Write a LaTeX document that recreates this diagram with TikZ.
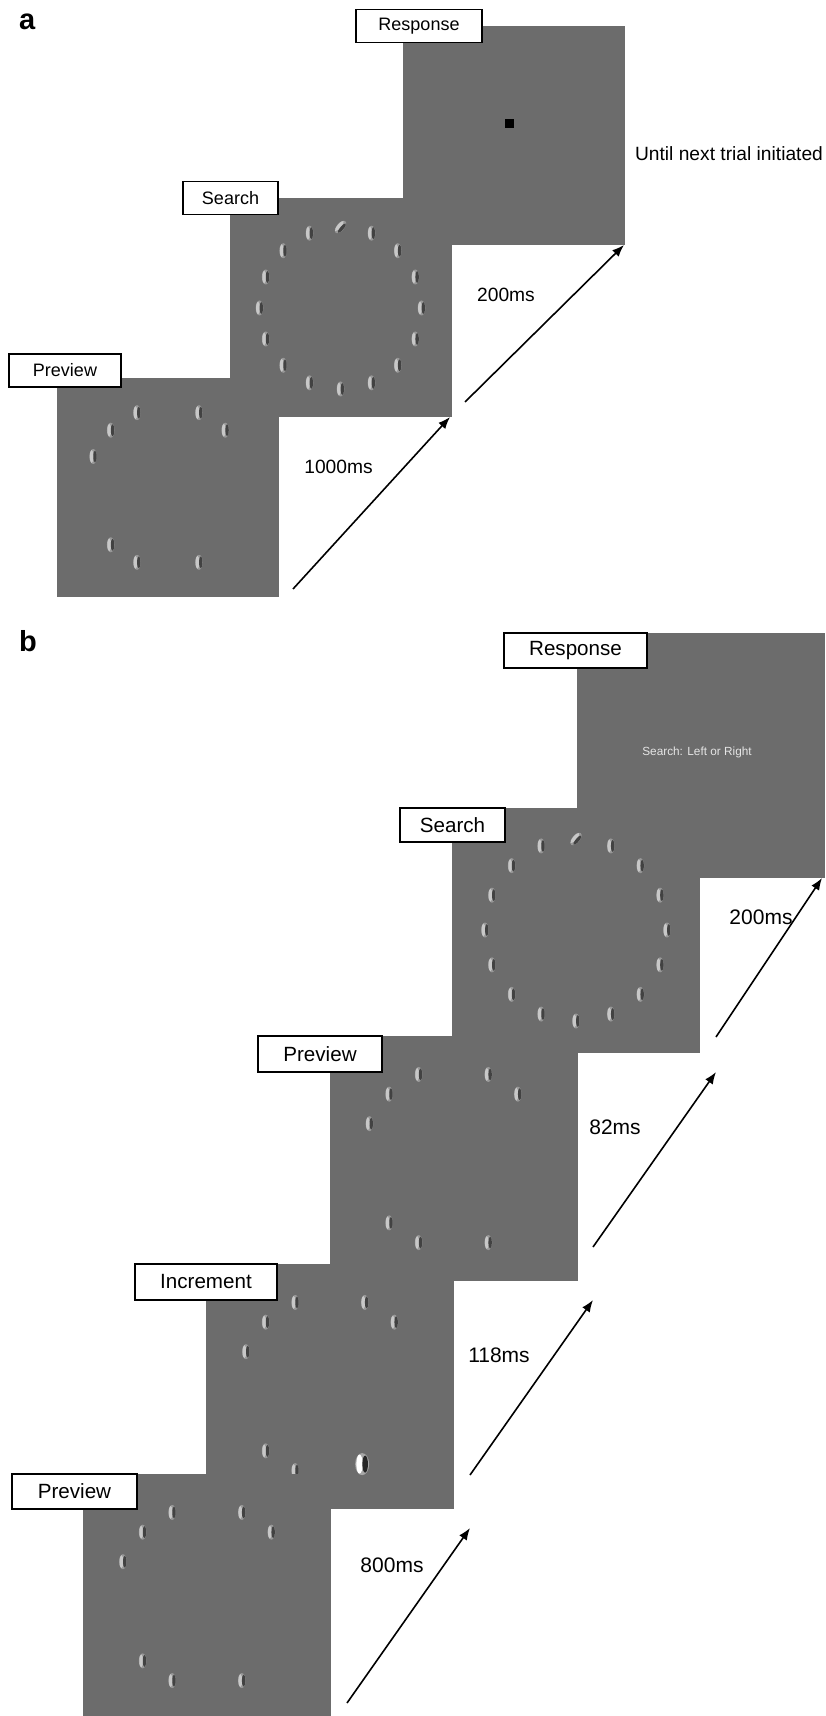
\documentclass[tikz,border=0pt]{standalone}
\usepackage{fontspec}
\setmainfont{Liberation Sans}
\usetikzlibrary{arrows.meta}

\definecolor{scrgray}{RGB}{108,108,108}
\definecolor{gablight}{RGB}{200,200,200}
\definecolor{gabdark}{RGB}{66,66,66}

\tikzset{
  gabor/.pic={
    \fill[scrgray!70!white] (0,0) ellipse [x radius=3.8, y radius=7.5];
    \fill[gablight] (-1.5,0) ellipse [x radius=1.9, y radius=6.5];
    \fill[gabdark] (1.8,0) ellipse [x radius=1.7, y radius=6];
  },
  incgabor/.pic={
    \fill[scrgray!60!white] (0,0) ellipse [x radius=7, y radius=11];
    \fill[white] (-2.6,0) ellipse [x radius=3.2, y radius=9.5];
    \fill[black!85] (3,0) ellipse [x radius=2.8, y radius=8.5];
  },
}

\begin{document}
\begin{tikzpicture}
[x=0.5pt,y=0.5pt,
screen a/.style={fill=scrgray,minimum width=111pt,minimum height=109.5pt,inner sep=0pt},
screen b/.style={fill=scrgray,minimum width=124pt,minimum height=122.5pt,inner sep=0pt},
tag/.style={draw,fill=white,line width=0.6pt,inner sep=0pt,minimum height=16.5pt},
tag a/.style={tag,font=\fontsize{9}{10}\selectfont},
tag b/.style={tag,minimum height=17.5pt,font=\fontsize{10.3}{12}\selectfont},
time/.style={font=\fontsize{10.5}{12}\selectfont},
timearrow/.style={line width=0.8pt,-{Latex[length=6pt,width=4.6pt]}}
]
\useasboundingbox (0,0) rectangle (825,-1716);

%%% panel a
\node[font=\bfseries\fontsize{14.5}{16}\selectfont,anchor=base west] (pa) at (12,-30) {a};

\node[screen a] (respA) at (514,-135.5) {};
\node[fill=black,minimum size=4.5pt,inner sep=0pt] (dot) at (509.5,-124) {};
\node[tag a,minimum width=63pt] (respAtag) at (419,-26) {Response};
\node[font=\fontsize{9.6}{11}\selectfont] (until) at (729,-154) {Until next trial initiated};

\node[screen a] (srchA) at (340.5,-308) {};
\foreach \a in {0,22.5,45,67.5,112.5,135,157.5,180,202.5,225,247.5,270,292.5,315,337.5}
  \path (srchA) ++(\a:81) pic {gabor};
\path (srchA) ++(90:81) pic[rotate=-40] {gabor};
\node[tag a,minimum width=47.5pt] (srchAtag) at (230.5,-198) {Search};

\node[screen a] (prevA) at (168,-487.5) {};
\foreach \a in {45,67.5,112.5,135,157.5,225,247.5,292.5}
  \path (prevA) ++(\a:81) pic {gabor};
\node[tag a,minimum width=56pt] (prevAtag) at (65,-370.5) {Preview};

\coordinate (a1s) at (293,-589);
\coordinate (a1e) at (450,-417);
\coordinate (a2s) at (465,-402);
\coordinate (a2e) at (624,-245);
\draw[timearrow] (a1s) -- (a1e);
\draw[timearrow] (a2s) -- (a2e);
\node[time,font=\fontsize{9.6}{11}\selectfont] (t1000) at (338.5,-467) {1000ms};
\node[time,font=\fontsize{9.6}{11}\selectfont] (t200a) at (506,-295) {200ms};

%%% panel b
\node[font=\bfseries\fontsize{14.5}{16}\selectfont,anchor=base west] (pb) at (12,-651) {b};

\node[screen b] (respB) at (700.5,-755) {};
\node[text=gray!20,font=\fontsize{5.9}{7}\selectfont] (prompt) at (697,-752) {Search: Left or Right};
\node[tag b,minimum width=71.5pt] (respBtag) at (575.5,-650.5) {Response};

\node[screen b] (srchB) at (576,-930) {};
\foreach \a in {0,22.5,45,67.5,112.5,135,157.5,180,202.5,225,247.5,270,292.5,315,337.5}
  \path (srchB) ++(\a:91) pic {gabor};
\path (srchB) ++(90:91) pic[rotate=-40] {gabor};
\node[tag b,minimum width=52.5pt,minimum height=17pt] (srchBtag) at (452.5,-825) {Search};

\node[screen b] (prev2B) at (453.5,-1158.5) {};
\foreach \a in {45,67.5,112.5,135,157.5,225,247.5,292.5}
  \path (prev2B) ++(\a:91) pic {gabor};
\node[tag b,minimum width=62pt,minimum height=18pt] (prev2Btag) at (320,-1054) {Preview};

\node[screen b] (incrB) at (330,-1386.5) {};
\foreach \a in {45,67.5,112.5,135,157.5,225,247.5}
  \path (incrB) ++(\a:91) pic {gabor};
\path (incrB) ++(292.5:84) pic {incgabor};
\node[tag b,minimum width=71pt,minimum height=18pt] (incrBtag) at (206,-1282) {Increment};

\node[screen b] (prev1B) at (207,-1596.5) {};
\foreach \a in {45,67.5,112.5,135,157.5,225,247.5,292.5}
  \path (prev1B) ++(\a:91) pic {gabor};
\node[tag b,minimum width=62.5pt] (prev1Btag) at (74.5,-1491.5) {Preview};

\coordinate (b1s) at (347,-1703);
\coordinate (b1e) at (470,-1528);
\coordinate (b2s) at (470,-1475);
\coordinate (b2e) at (593,-1300);
\coordinate (b3s) at (593,-1247);
\coordinate (b3e) at (716,-1072);
\coordinate (b4s) at (716,-1037);
\coordinate (b4e) at (822,-878);
\draw[timearrow] (b1s) -- (b1e);
\draw[timearrow] (b2s) -- (b2e);
\draw[timearrow] (b3s) -- (b3e);
\draw[timearrow] (b4s) -- (b4e);
\node[time] (t800) at (392,-1565) {800ms};
\node[time] (t118) at (499,-1355) {118ms};
\node[time] (t82) at (615,-1127) {82ms};
\node[time] (t200b) at (761,-917) {200ms};
\end{tikzpicture}
\end{document}
